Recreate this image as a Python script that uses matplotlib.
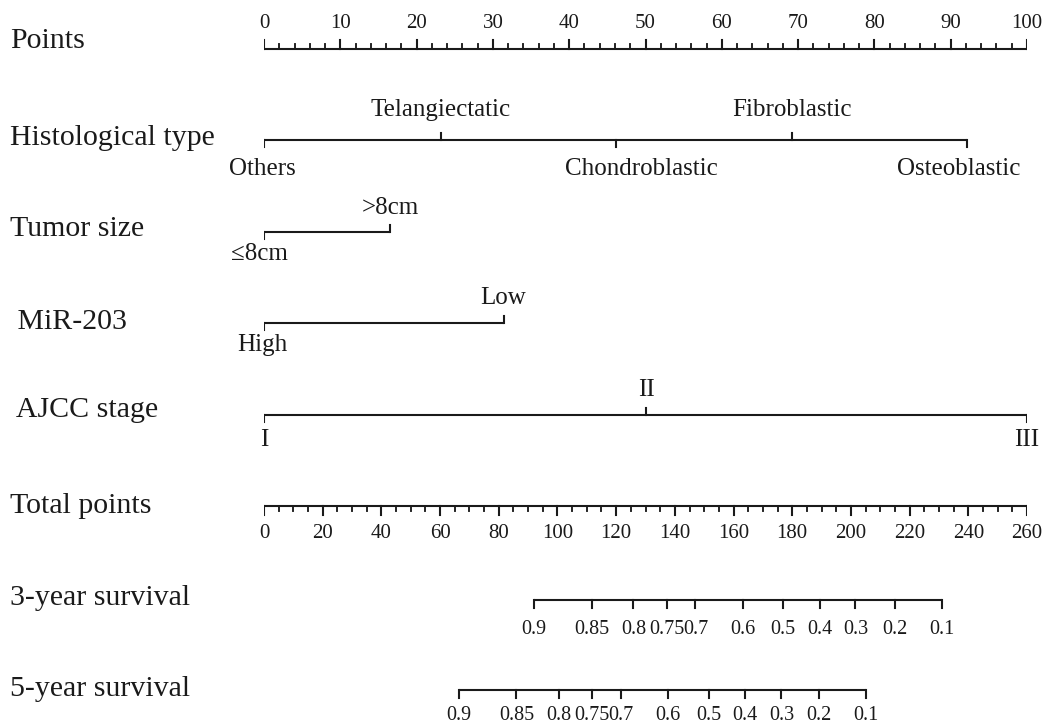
import matplotlib
matplotlib.use('Agg')
import matplotlib.pyplot as plt
import matplotlib.transforms as mtrans
import numpy as np

plt.rcParams['font.family'] = ['Liberation Serif', 'DejaVu Serif']

# ---- data ----
row_names = ["Points", "Histological type", "Tumor size", " MiR-203", " AJCC stage",
             "Total points", "3-year survival", "5-year survival"]

hist_levels = ["Others", "Telangiectatic", "Chondroblastic", "Fibroblastic", "Osteoblastic"]
hist_points = [0, 23.2, 46.1, 69.2, 92.2]
size_levels = ["\u22648cm", ">8cm"]
size_points = [0, 16.5]
mir_levels = ["High", "Low"]
mir_points = [0, 31.4]
ajcc_levels = ["I", "II", "III"]
ajcc_points = [0, 50.1, 100]

points_max = 100
total_max = 260
surv_labels = ["0.9", "0.85", "0.8", "0.75", "0.7", "0.6", "0.5", "0.4", "0.3", "0.2", "0.1"]
surv3_total = [92.1, 111.6, 125.9, 137.2, 147.0, 163.1, 176.7, 189.3, 201.5, 214.9, 230.9]
surv5_total = [66.5, 86.0, 100.4, 111.8, 121.5, 137.7, 151.5, 163.9, 176.3, 189.2, 205.2]

# ---- layout (pixel rows) ----
line_y = [49, 140, 232, 323, 415, 506, 600, 690]
name_y = [41, 138, 229, 322, 410, 506, 598, 689]
col = '#1a1a1a'
lw = 1.5

fig = plt.figure(figsize=(10.45, 7.28), dpi=100)
ax = fig.add_axes([264 / 1045, 0, 763 / 1045, 1])
ax.set_xlim(0, points_max)
ax.set_ylim(728, 0)
ax.axis('off')

name_tr = mtrans.blended_transform_factory(fig.transFigure, ax.transData)
for name, y in zip(row_names, name_y):
    ax.text(10 / 1045, y, name, transform=name_tr, fontsize=21.5, color=col,
            ha='left', va='center')


def scale(y, x0, x1, major, minor, up, maj_len=9, min_len=5):
    ax.plot([x0, x1], [y, y], color=col, lw=lw, solid_capstyle='butt')
    s = -1 if up else 1
    for m in minor:
        ax.plot([m, m], [y, y + s * min_len], color=col, lw=lw * 0.9)
    for m in major:
        ax.plot([m, m], [y, y + s * maj_len], color=col, lw=lw)


# Points
pmaj = np.arange(0, points_max + 1, 10)
pmin = np.arange(0, points_max + 1, 2)
scale(line_y[0], 0, points_max, pmaj, pmin, up=True)
for v in pmaj:
    ax.text(v, line_y[0] - 25, str(v), fontsize=15, ha='center', va='center', color=col)


# categorical rows
def cat_row(y, levels, pts, sides, off_up, off_dn, dx=None):
    ax.plot([pts[0], pts[-1]], [y, y], color=col, lw=lw, solid_capstyle='butt')
    for i, (lab, p, sd) in enumerate(zip(levels, pts, sides)):
        up = sd == 'up'
        ax.plot([p, p], [y, y - 7 if up else y + 7], color=col, lw=lw)
        shift = dx[i] if dx else 0
        ax.text(p + shift, y - off_up if up else y + off_dn, lab, fontsize=18,
                ha='center', va='center', color=col)


cat_row(line_y[1], hist_levels, hist_points, ['dn', 'up', 'dn', 'up', 'dn'], 30, 29,
        dx=[-0.2, 0, 3.3, 0, -1.2])
cat_row(line_y[2], size_levels, size_points, ['dn', 'up'], 24, 22, dx=[-0.6, 0])
cat_row(line_y[3], mir_levels, mir_points, ['dn', 'up'], 25, 22, dx=[-0.2, 0])
cat_row(line_y[4], ajcc_levels, ajcc_points, ['dn', 'up', 'dn'], 25, 25)

# Total points
k = points_max / total_max
tmaj = np.arange(0, total_max + 1, 20)
tmin = np.arange(0, total_max + 1, 5)
scale(line_y[5], 0, points_max, tmaj * k, tmin * k, up=False)
for v in tmaj:
    ax.text(v * k, line_y[5] + 28, str(v), fontsize=15, ha='center', va='center', color=col)

# survival scales
for y, tot, off in [(line_y[6], surv3_total, 29), (line_y[7], surv5_total, 25)]:
    xs = np.array(tot) * k
    scale(y, xs[0], xs[-1], xs, [], up=False, maj_len=8)
    for x, lab in zip(xs, surv_labels):
        ax.text(x, y + off, lab, fontsize=14.5, ha='center', va='center', color=col)

fig.savefig('out.png', dpi=100)
